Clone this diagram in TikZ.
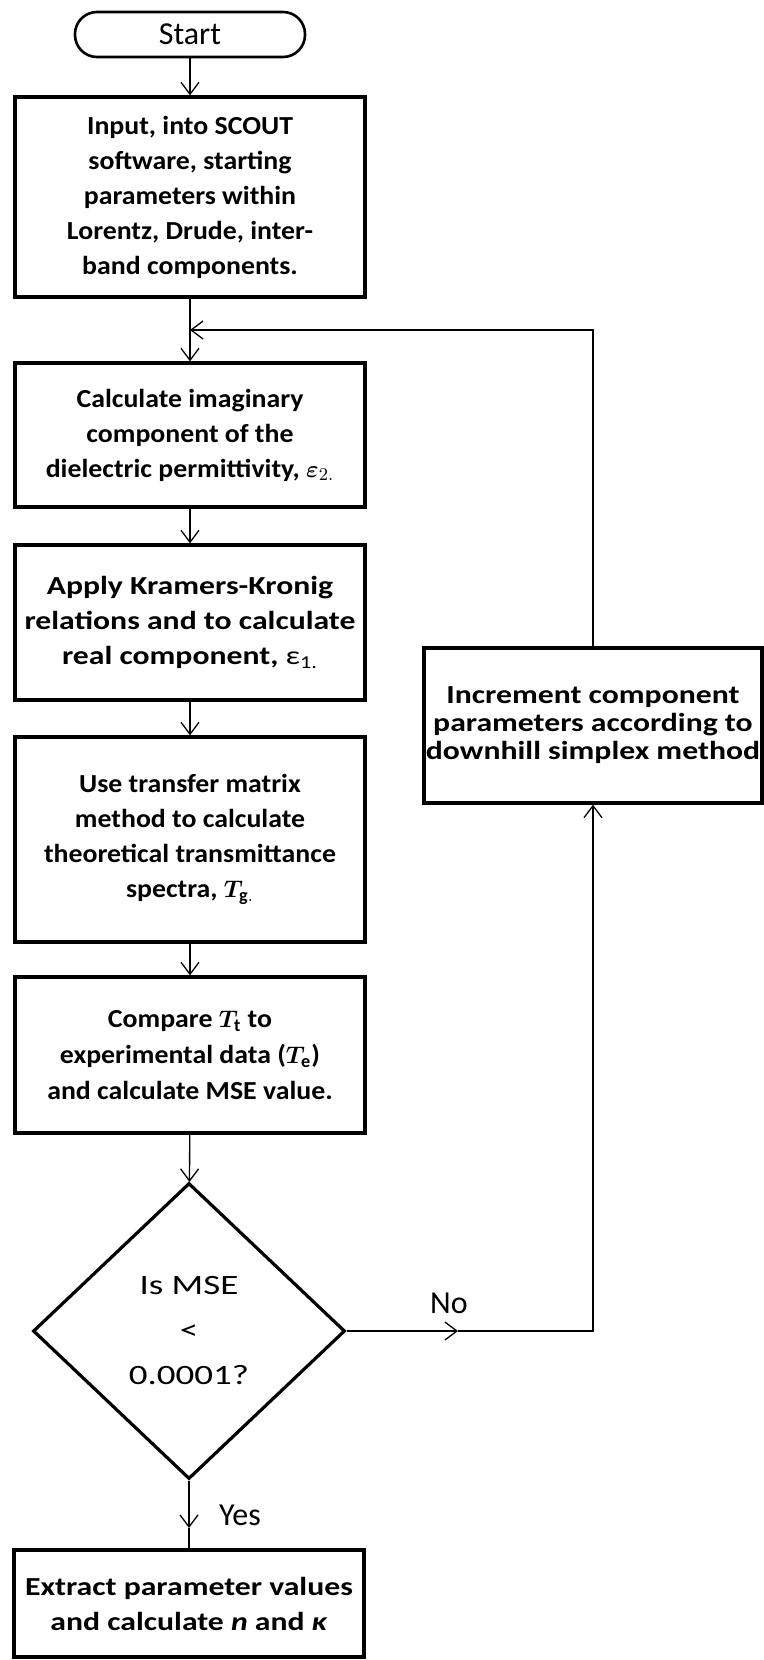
\documentclass[tikz,border=0pt]{standalone}
\usepackage{amsmath}
\usepackage{bm}
\usepackage{fontspec}
\setmainfont{Carlito}
\newfontfamily\boxfont{Carlito}[FakeStretch=1.07]
\newfontfamily\widefont{Carlito}[FakeStretch=1.22]
\newfontfamily\decfont{Carlito}[FakeStretch=1.32]
\usetikzlibrary{shapes.geometric, arrows.meta, positioning, calc}
\tikzset{
	startstop/.style={rectangle, rounded corners=11pt, minimum width=115pt, minimum height=22.5pt, text centered, draw=black, line width=1.3pt, font=\fontsize{16}{19}\selectfont},
	process/.style  ={rectangle, minimum width=175pt, text centered, align=center, draw=black, line width=1.6pt, inner sep=0pt, font=\boxfont\bfseries\fontsize{13}{17.5}\selectfont},
	widebox/.style  ={process, font=\widefont\bfseries\fontsize{13}{17.5}\selectfont},
	decision/.style ={diamond, minimum width=156pt, minimum height=148pt, text centered, align=center, draw=black, line width=1.6pt, inner sep=0pt, font=\decfont\fontsize{14}{22.5}\selectfont},
	flowarrow/.style={-{Straight Barb[length=6pt, width=9pt]}, line width=0.65pt},
	flowline/.style ={line width=0.65pt},
	answer/.style   ={font=\fontsize{16}{18}\selectfont, inner sep=0pt},
}

\begin{document}
\begin{tikzpicture}[x=0.5pt, y=-0.5pt]
	\useasboundingbox (0,0) rectangle (764,1660);
	% main column
	\node[startstop] (start) at (190,34.5) {Start};
	\node[process, minimum height=100pt] (input) at (190,197) {Input, into SCOUT\\software, starting\\parameters within\\Lorentz, Drude, inter-\\band components.};
	\node[process, minimum height=72pt] (imag) at (190,435) {Calculate imaginary\\component of the\\dielectric permittivity, $\bm{\varepsilon}_{2.}$};
	\node[widebox, minimum height=77.5pt] (kk) at (190,622.5) {Apply Kramers-Kronig\\relations and to calculate\\real component, {\mdseries ε\textsubscript{1.}}};
	\node[process, minimum height=102.5pt] (tmm) at (190,839.5) {Use transfer matrix\\method to calculate\\theoretical transmittance\\spectra, $\bm{T}_{\mathbf{g.}}$};
	\node[process, minimum height=78pt, font=\boxfont\bfseries\fontsize{13}{18}\selectfont] (comp) at (190,1055) {Compare $\bm{T}_{\mathbf{t}}$ to\\experimental data ($\bm{T}_{\mathbf{e}}$)\\and calculate MSE value.};
	\node[decision] (mse) at (189,1331) {Is MSE\\<\\0.0001?};
	\node[widebox, minimum height=53.5pt] (extract) at (189,1603.5) {Extract parameter values\\and calculate \textit{n} and \textit{κ}};
	% loop box
	\node[widebox, minimum width=169pt, minimum height=77.5pt, font=\widefont\bfseries\fontsize{13}{14}\selectfont] (incr) at (593,725.5) {Increment component\\parameters according to\\downhill simplex method};
	\coordinate (loopjoin) at (190,330);
	\coordinate (yestip) at (189,1528);
	\coordinate (notip) at (458,1331);
	\node[answer] (yes) at (240,1515) {Yes};
	\node[answer] (no) at (449,1303) {No};
	% connectors
	\draw[flowarrow] (start) -- (input);
	\draw[flowarrow] (input) -- (imag);
	\draw[flowarrow] (imag) -- (kk);
	\draw[flowarrow] (kk) -- (tmm);
	\draw[flowarrow] (tmm) -- (comp);
	\draw[flowarrow] (comp) -- (mse);
	\draw[flowarrow] (mse.south) -- (yestip);
	\draw[flowline] (yestip) -- (extract);
	\draw[flowarrow] (mse.east) -- (notip);
	\draw[flowarrow] (notip) -| (incr.south);
	\draw[flowarrow] (incr.north) |- (loopjoin);
\end{tikzpicture}
\end{document}
